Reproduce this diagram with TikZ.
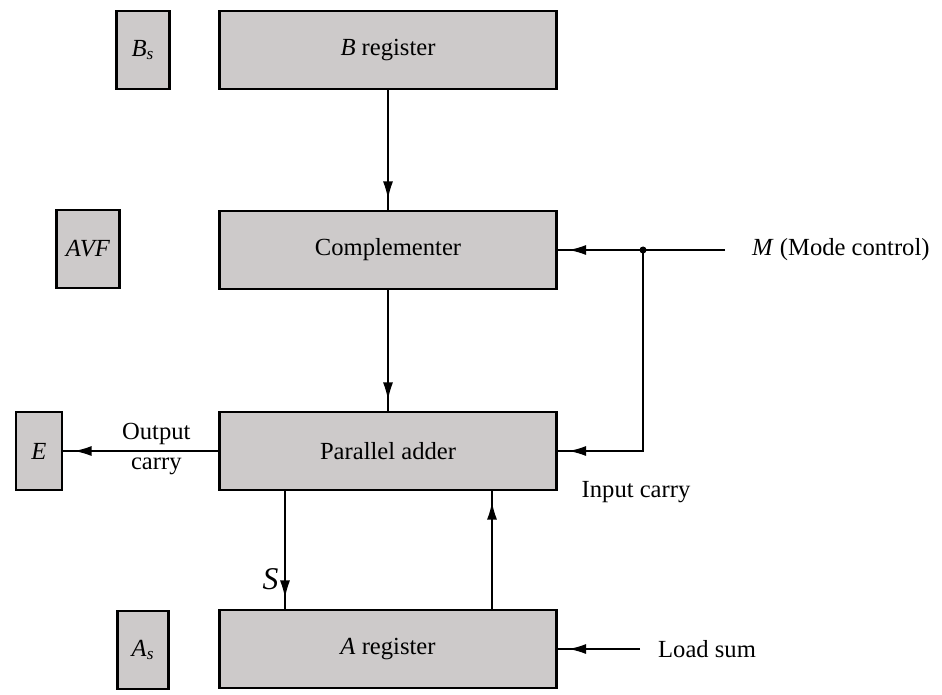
\documentclass[tikz,border=0pt]{standalone}
\usepackage{fontspec}
\setmainfont{Liberation Serif}
\usetikzlibrary{arrows.meta,decorations.markings}
\definecolor{boxgray}{RGB}{205,202,202}

\begin{document}
\begin{tikzpicture}[x=0.02cm, y=-0.02cm, font=\fontsize{14}{16}\selectfont,
  reg/.style={draw, line width=1.2pt, fill=boxgray, minimum height=1.56cm, inner sep=0pt},
  arr/.style={line width=0.9pt, postaction={decorate},
    decoration={markings, mark=at position -0.22cm with {\arrow{Latex[length=3.5mm,width=2mm]}}}}]
  \useasboundingbox (0,0) rectangle (942,694);

  % sign bits and overflow flags on the left
  \node[reg, minimum width=1.06cm] (bs)  at (143,50)  {\textit{B}\textsubscript{\textit{s}}};
  \node[reg, minimum width=1.26cm] (avf) at (88,249)  {\textit{AVF}};
  \node[reg, minimum width=0.92cm] (e)   at (39,451)  {\textit{E}};
  \node[reg, minimum width=1.02cm] (as)  at (143,650) {\textit{A}\textsubscript{\textit{s}}};

  % main data path
  \node[reg, minimum width=6.74cm] (breg)  at (388,50)  {\textit{B} register};
  \node[reg, minimum width=6.74cm] (comp)  at (388,250) {Complementer};
  \node[reg, minimum width=6.74cm] (adder) at (388,451) {Parallel adder};
  \node[reg, minimum width=6.74cm] (areg)  at (388,649) {\textit{A} register};

  \draw[arr] (breg) -- (comp);
  \draw[arr] (comp) -- (adder);
  \draw[arr] (adder.west) -- node[above, pos=0.4] (outtxt) {Output}
    node[below, pos=0.4] (cartxt) {carry} (e.east);

  % mode control and input carry
  \coordinate (mend) at (725,250);
  \coordinate (mj) at (643,250);
  \node[anchor=west] (mtxt) at (746,250) {\textit{M} (Mode control)};
  \draw[arr] (mend) -- (comp.east);
  \draw[arr] (mj) |- (adder.east);
  \fill (mj) circle (2pt);
  \node (intxt) at (636,492) {Input carry};

  % sum back into A
  \coordinate (sx) at (285,0);
  \coordinate (ux) at (492,0);
  \draw[arr] (adder.south -| sx) -- node[left, pos=0.75] (stxt) {\fontsize{18}{20}\selectfont\textit{S}} (areg.north -| sx);
  \draw[arr] (areg.north -| ux) -- (adder.south -| ux);

  \coordinate (ld) at (640,649);
  \draw[arr] (ld) -- (areg.east);
  \node[anchor=west] (ldtxt) at (652,649) {Load sum};
\end{tikzpicture}
\end{document}
